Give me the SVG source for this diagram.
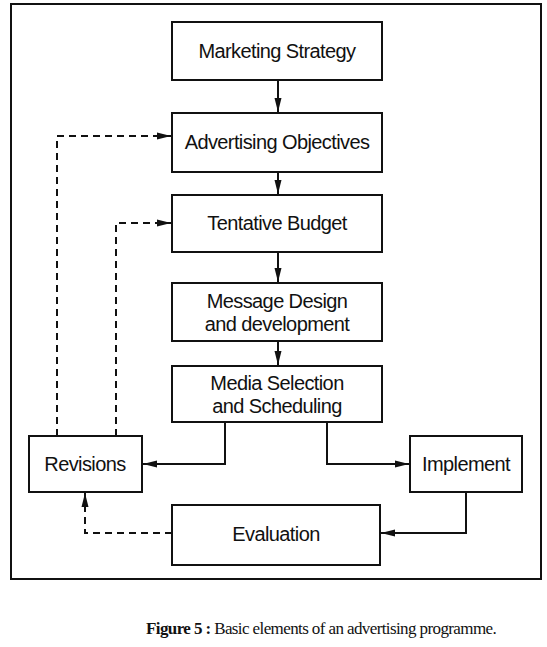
<svg xmlns="http://www.w3.org/2000/svg" width="547" height="647" viewBox="0 0 547 647">
<style>
.box{fill:#fff;stroke:#111;stroke-width:2}
.t{font-family:"Liberation Sans",Arial,sans-serif;font-size:20px;letter-spacing:-0.6px;fill:#111;text-anchor:middle}
.c{fill:none;stroke:#111;stroke-width:2}
.d{fill:none;stroke:#111;stroke-width:2;stroke-dasharray:7,5}
.cap{font-family:"Liberation Serif","Times New Roman",serif;font-size:17px;letter-spacing:-0.6px;fill:#111}
</style>
<defs>
<marker id="b" viewBox="0 0 14 10" refX="14" refY="5" markerWidth="14" markerHeight="10" markerUnits="userSpaceOnUse" orient="auto"><path d="M0,1.5 L14,5 L0,8.5 Z" fill="#111"/></marker>
</defs>
<rect x="0" y="0" width="547" height="647" fill="#fff"/>
<rect x="11" y="4" width="530" height="575" fill="none" stroke="#111" stroke-width="2"/>
<g id="connectors">
<path class="c" d="M278,80 V112" marker-end="url(#b)"/>
<path class="c" d="M278,172 V194" marker-end="url(#b)"/>
<path class="c" d="M278,252 V282" marker-end="url(#b)"/>
<path class="c" d="M278,341 V365" marker-end="url(#b)"/>
<path class="c" d="M225,422 V464 H143" marker-end="url(#b)"/>
<path class="c" d="M327,422 V464 H409" marker-end="url(#b)"/>
<path class="c" d="M466,492 V533 H381" marker-end="url(#b)"/>
<path class="d" d="M172,533 H85 V493" marker-end="url(#b)"/>
<path class="d" d="M57,436 V136 H171" marker-end="url(#b)"/>
<path class="d" d="M116,436 V223 H171" marker-end="url(#b)"/>
</g>
<g id="marketing"><rect class="box" x="172" y="22" width="210" height="58"/><text class="t" x="277" y="58">Marketing Strategy</text></g>
<g id="objectives"><rect class="box" x="172" y="113" width="210" height="59"/><text class="t" x="277" y="149">Advertising Objectives</text></g>
<g id="budget"><rect class="box" x="172" y="195" width="210" height="57"/><text class="t" x="277" y="230">Tentative Budget</text></g>
<g id="message"><rect class="box" x="172" y="283" width="210" height="58"/><text class="t" x="277" y="308">Message Design</text><text class="t" x="277" y="331">and development</text></g>
<g id="media"><rect class="box" x="172" y="366" width="210" height="56"/><text class="t" x="277" y="390">Media Selection</text><text class="t" x="277" y="413">and Scheduling</text></g>
<g id="revisions"><rect class="box" x="29" y="436" width="113" height="56"/><text class="t" x="85" y="471">Revisions</text></g>
<g id="implement"><rect class="box" x="410" y="436" width="112" height="56"/><text class="t" x="466" y="471">Implement</text></g>
<g id="evaluation"><rect class="box" x="172" y="505" width="208" height="60"/><text class="t" x="276" y="541">Evaluation</text></g>
<text class="cap" x="146" y="634"><tspan font-weight="bold">Figure 5 :</tspan> Basic elements of an advertising programme.</text>
</svg>
